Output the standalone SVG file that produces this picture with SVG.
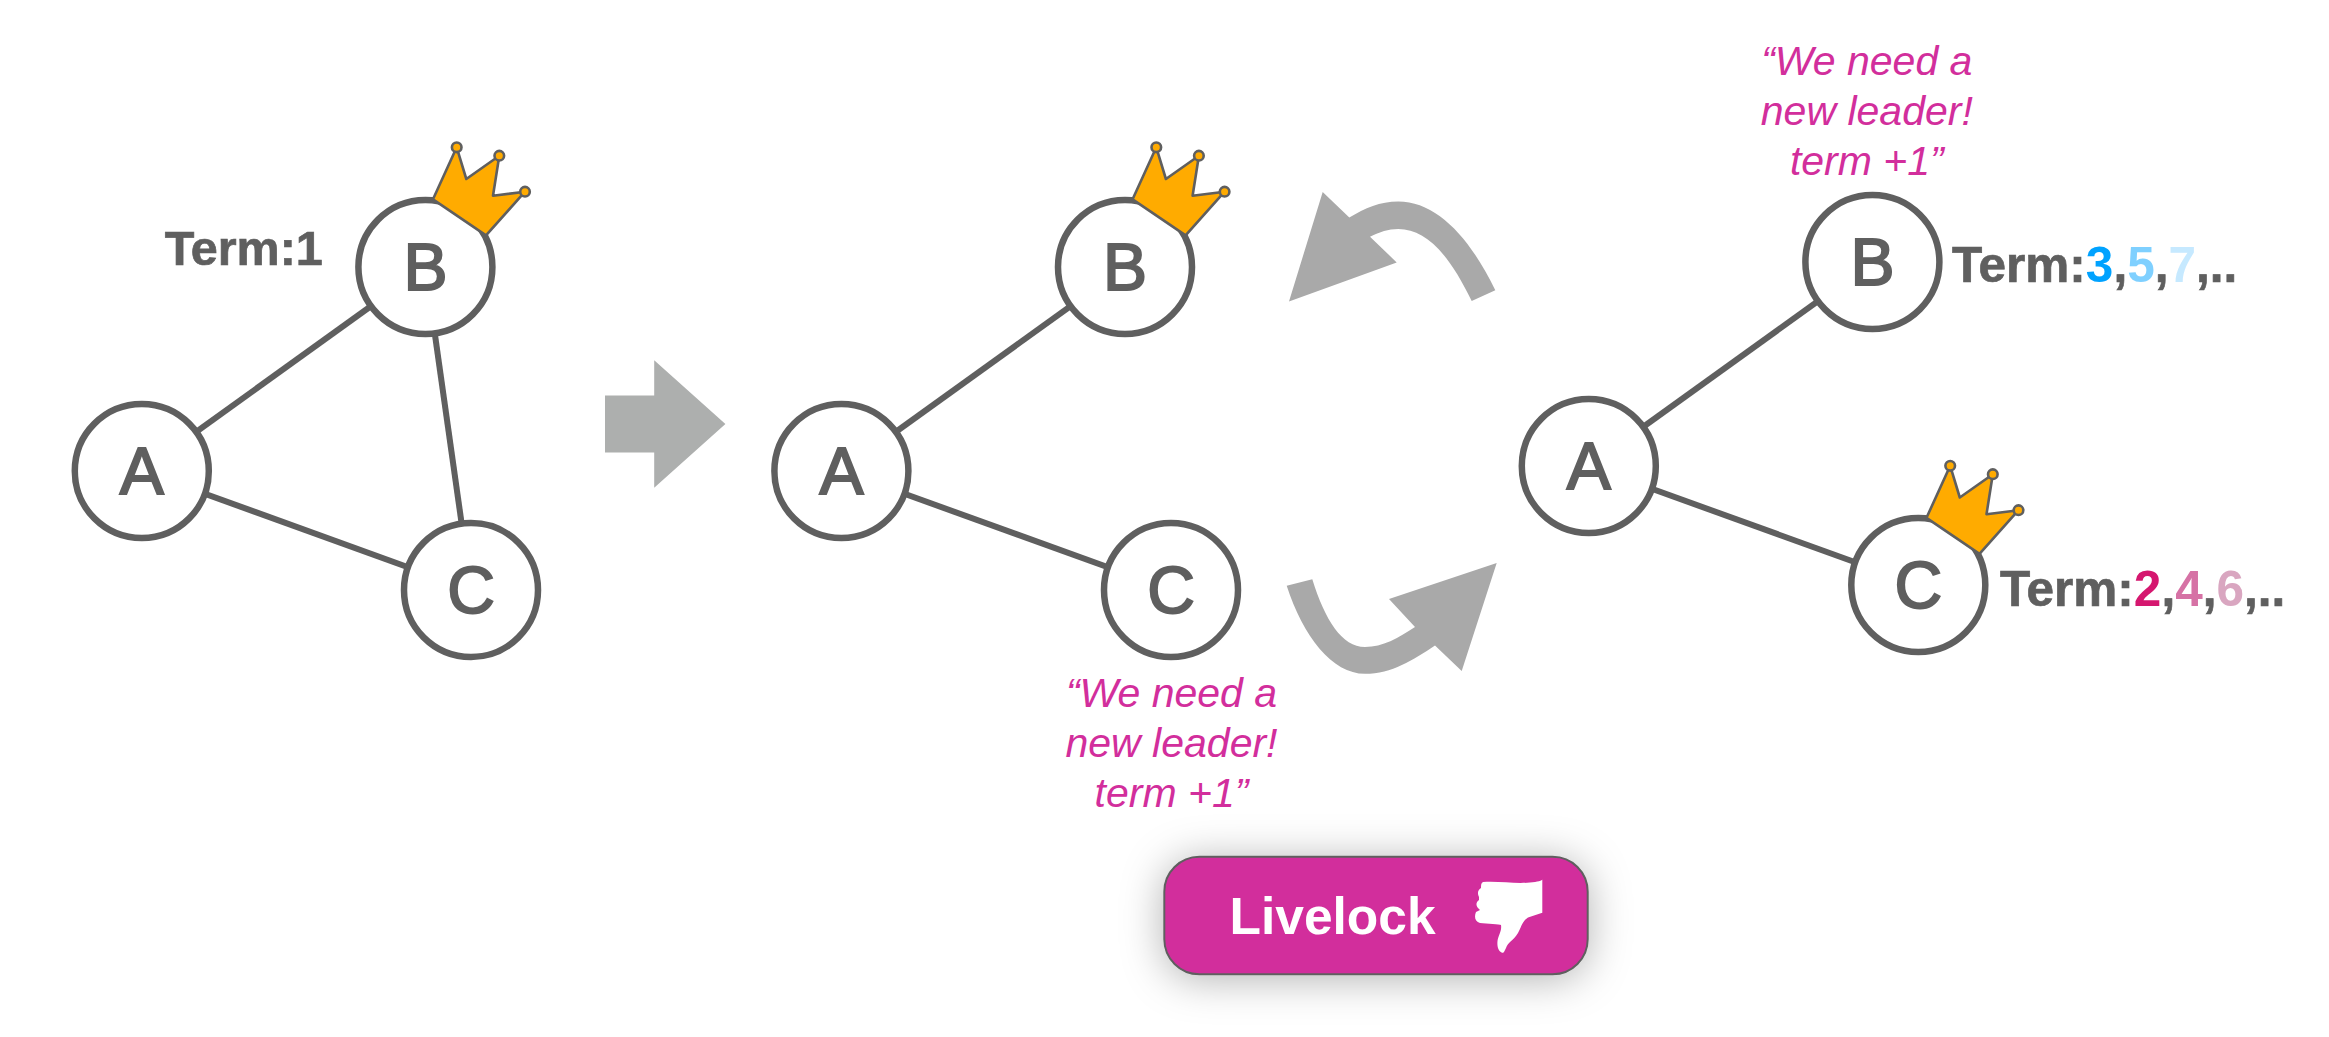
<svg xmlns="http://www.w3.org/2000/svg" width="2329" height="1037" viewBox="0 0 2329 1037">
<defs>
<style>
.circle{fill:#fff;stroke:#5f5f5f;stroke-width:6.5}
.letter{font:400 66px "Liberation Sans",Arial,sans-serif;fill:#5f5f5f;stroke:#5f5f5f;stroke-width:2;text-anchor:middle}
.edge{stroke:#5f5f5f;stroke-width:6;fill:none}
.term{font:700 48.5px "Liberation Sans",Arial,sans-serif;fill:#5f5f5f;stroke:#5f5f5f;stroke-width:.7}
.termlong{font-size:49.5px}
.term tspan{stroke:none}
.say{font:italic 400 41px "Liberation Sans",Arial,sans-serif;fill:#d22e9c;text-anchor:middle}
.crown{fill:#ffab00;stroke:#5f5f5f;stroke-width:2.6;stroke-linejoin:round}
.curve{fill:#a9a9a9}
</style>
<filter id="shadow" x="-25%" y="-80%" width="150%" height="260%">
<feDropShadow dx="0" dy="4" stdDeviation="21" flood-color="#000" flood-opacity="0.3"/>
</filter>
<g id="crown">
<path class="crown" d="M433 199.3L456.7 147.3L466.3 179L499.3 155.7L493 195.7L525 191.7L486 235.3Z"/>
<circle class="crown" cx="456.7" cy="147.3" r="4.8"/>
<circle class="crown" cx="499.3" cy="155.7" r="4.8"/>
<circle class="crown" cx="525" cy="191.7" r="4.8"/>
</g>
</defs>
<rect width="2329" height="1037" fill="#fff"/>
<g id="connectors">
<line class="edge" x1="141.8" y1="471" x2="425.4" y2="267"/>
<line class="edge" x1="141.8" y1="471" x2="471" y2="590"/>
<line class="edge" x1="425.4" y1="267" x2="471" y2="590"/>
<line class="edge" x1="841.4" y1="471" x2="1125" y2="267"/>
<line class="edge" x1="841.4" y1="471" x2="1171" y2="590"/>
<line class="edge" x1="1588.8" y1="466" x2="1872.4" y2="262"/>
<line class="edge" x1="1588.8" y1="466" x2="1918.3" y2="585"/>
<path id="arrow-next" fill="#adafae" d="M605 395.4H654.2V360.2L725.4 424L654.2 487.7V452.5H605Z"/>
<path id="arrow-back" class="curve" d="M1495.3 290.3C1470 238 1437 201.5 1398.3 201.5C1380 201.5 1365 208 1349.3 217.6L1322.7 192L1289 301.4L1396.7 262.4L1370 236.7C1380 232 1388 229 1398.3 229C1425 229 1448 252 1471.7 301Z"/>
<path id="arrow-forth" class="curve" d="M1286.7 585.7C1303 636 1332 673.8 1365 673.8C1392 673.8 1413 660 1435 645.5L1461.7 671L1496.7 563L1389 599L1415 627C1398 638 1383 647 1365 647C1342 647 1325 620 1312.3 579.2Z"/>
</g>
<g id="node-a1"><circle class="circle" cx="141.8" cy="471" r="67"/><text class="letter" x="141.8" y="494">A</text></g>
<g id="node-b1"><circle class="circle" cx="425.4" cy="267" r="67"/><text class="letter" x="425.4" y="290">B</text><use href="#crown"/></g>
<g id="node-c1"><circle class="circle" cx="471" cy="590" r="67"/><text class="letter" x="471" y="613">C</text></g>
<text id="term-1" class="term" x="164.7" y="265">Term:1</text>
<g id="node-a2"><circle class="circle" cx="841.4" cy="471" r="67"/><text class="letter" x="841.4" y="494">A</text></g>
<g id="node-b2"><circle class="circle" cx="1125" cy="267" r="67"/><text class="letter" x="1125" y="290">B</text><use href="#crown" x="699.6"/></g>
<g id="node-c2"><circle class="circle" cx="1171" cy="590" r="67"/><text class="letter" x="1171" y="613">C</text></g>
<text id="say-c" class="say"><tspan x="1171.5" y="707">“We need a</tspan><tspan x="1171.5" y="757">new leader!</tspan><tspan x="1171.5" y="807">term +1”</tspan></text>
<g id="node-a3"><circle class="circle" cx="1588.8" cy="466" r="67"/><text class="letter" x="1588.8" y="489">A</text></g>
<g id="node-b3"><circle class="circle" cx="1872.4" cy="262" r="67"/><text class="letter" x="1872.4" y="285">B</text></g>
<g id="node-c3"><circle class="circle" cx="1918.3" cy="585" r="67"/><text class="letter" x="1918.3" y="608">C</text><use href="#crown" x="1493.5" y="318.5"/></g>
<text id="say-b" class="say"><tspan x="1866.8" y="75">“We need a</tspan><tspan x="1866.8" y="125">new leader!</tspan><tspan x="1866.8" y="175">term +1”</tspan></text>
<text id="term-b" class="term termlong" x="1952" y="282.3">Term:<tspan fill="#00a2ff">3</tspan>,<tspan fill="#7fd0ff">5</tspan>,<tspan fill="#c6e9ff">7</tspan>,..</text>
<text id="term-c" class="term termlong" x="2000" y="605.7">Term:<tspan fill="#d5176f">2</tspan>,<tspan fill="#d672a5">4</tspan>,<tspan fill="#d9a6c0">6</tspan>,..</text>
<g id="livelock">
<rect x="1164.3" y="856.7" width="423.4" height="117.6" rx="35" fill="#d22e9c" stroke="#5f5f5f" stroke-width="2" filter="url(#shadow)"/>
<text x="1229.5" y="934" style="font:700 51.5px 'Liberation Sans',Arial,sans-serif;fill:#fff">Livelock</text>
<path fill="#fff" d="M1483 882C1500 881 1515 884 1530 882.5C1538 882 1543 880 1542.3 879.3V912.7L1528 917.5C1522 921 1521 928 1518 933C1513 941 1508 942 1506 948C1504 952 1504 953 1502 952.7C1498 951 1497 946 1497.5 941C1498 936 1502 931 1501 925C1500 924 1487 924 1480 923C1475 922 1474 917 1476 912L1480 910C1476 907 1475 903 1479 900L1479 897C1477 893 1478 890 1481 888C1481 885 1481 883 1483 882Z"/>
</g>
</svg>
